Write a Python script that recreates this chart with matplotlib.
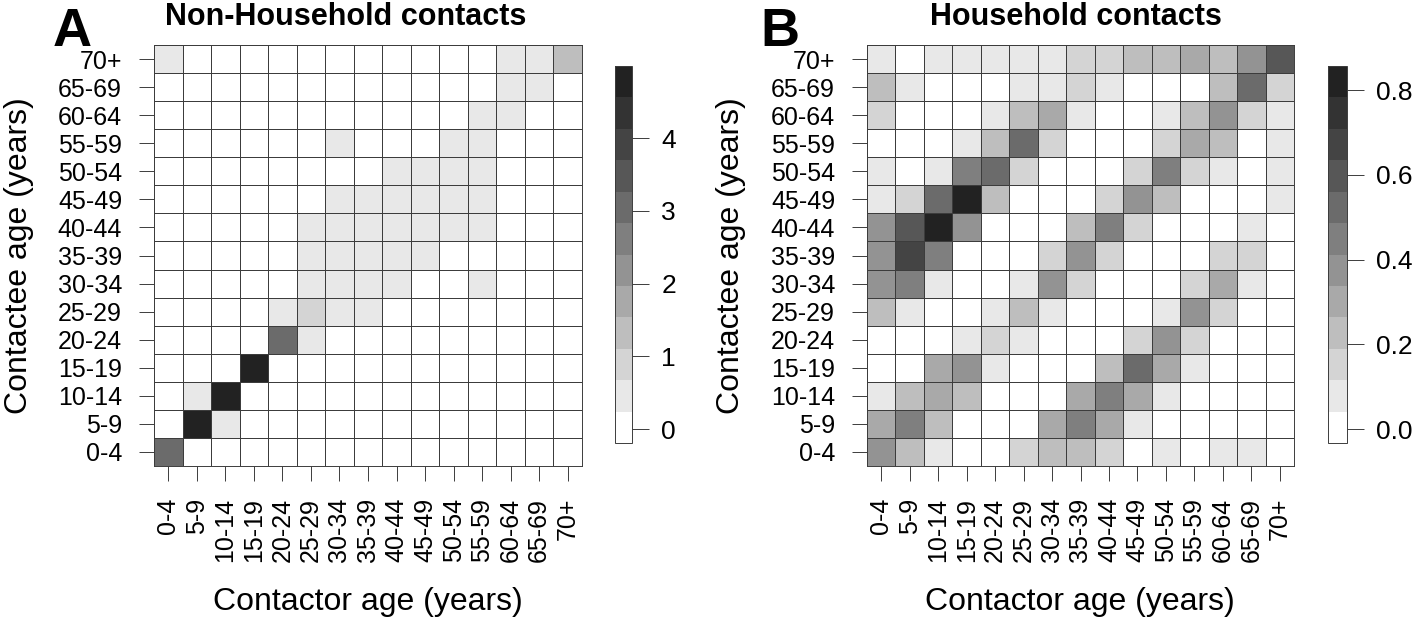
import numpy as np
import matplotlib
matplotlib.use('Agg')
import matplotlib.pyplot as plt
from matplotlib.colors import ListedColormap, BoundaryNorm

plt.rcParams['font.family'] = ['Liberation Sans', 'DejaVu Sans']

age_groups = ['0-4', '5-9', '10-14', '15-19', '20-24', '25-29', '30-34', '35-39',
              '40-44', '45-49', '50-54', '55-59', '60-64', '65-69', '70+']

# rows = contactee age (0-4 first), columns = contactor age
non_household = np.array([
    [3.05, 0, 0, 0, 0, 0, 0, 0, 0, 0, 0, 0, 0, 0, 0],
    [0, 4.8, 0.45, 0, 0, 0, 0, 0, 0, 0, 0, 0, 0, 0, 0],
    [0, 0.45, 4.8, 0, 0, 0, 0, 0, 0, 0, 0, 0, 0, 0, 0],
    [0, 0, 0, 4.8, 0, 0, 0, 0, 0, 0, 0, 0, 0, 0, 0],
    [0, 0, 0, 0, 3.05, 0.45, 0, 0, 0, 0, 0, 0, 0, 0, 0],
    [0, 0, 0, 0, 0.45, 0.9, 0.45, 0.45, 0, 0, 0, 0, 0, 0, 0],
    [0, 0, 0, 0, 0, 0.45, 0.45, 0.45, 0.45, 0, 0, 0.45, 0, 0, 0],
    [0, 0, 0, 0, 0, 0.45, 0.45, 0.45, 0.45, 0.45, 0, 0, 0, 0, 0],
    [0, 0, 0, 0, 0, 0.45, 0.45, 0.45, 0.45, 0.45, 0.45, 0.45, 0, 0, 0],
    [0, 0, 0, 0, 0, 0, 0.45, 0.45, 0.45, 0.45, 0.45, 0.45, 0, 0, 0],
    [0, 0, 0, 0, 0, 0, 0, 0, 0.45, 0.45, 0.45, 0.45, 0, 0, 0],
    [0, 0, 0, 0, 0, 0, 0.45, 0, 0, 0, 0.45, 0.45, 0, 0, 0],
    [0, 0, 0, 0, 0, 0, 0, 0, 0, 0, 0, 0.45, 0.45, 0, 0],
    [0, 0, 0, 0, 0, 0, 0, 0, 0, 0, 0, 0, 0.45, 0.45, 0],
    [0.45, 0, 0, 0, 0, 0, 0, 0, 0, 0, 0, 0, 0.45, 0.45, 1.3],
])

household = np.array([
    [0.38, 0.23, 0.08, 0, 0, 0.15, 0.23, 0.23, 0.15, 0, 0.08, 0, 0.08, 0.08, 0],
    [0.30, 0.45, 0.23, 0, 0, 0, 0.30, 0.45, 0.30, 0.08, 0, 0, 0, 0, 0],
    [0.08, 0.23, 0.30, 0.23, 0, 0, 0, 0.30, 0.45, 0.30, 0.08, 0, 0, 0, 0],
    [0, 0, 0.30, 0.38, 0.08, 0, 0, 0, 0.23, 0.52, 0.30, 0.08, 0, 0, 0],
    [0, 0, 0, 0.08, 0.15, 0.08, 0, 0, 0, 0.15, 0.38, 0.15, 0, 0, 0],
    [0.23, 0.08, 0, 0, 0.08, 0.23, 0.08, 0, 0, 0, 0.08, 0.38, 0.15, 0, 0],
    [0.38, 0.45, 0.08, 0, 0, 0.08, 0.38, 0.15, 0, 0, 0, 0.15, 0.30, 0.08, 0],
    [0.38, 0.67, 0.45, 0, 0, 0, 0.15, 0.38, 0.15, 0, 0, 0, 0.15, 0.15, 0],
    [0.38, 0.60, 0.82, 0.38, 0, 0, 0, 0.23, 0.45, 0.15, 0, 0, 0, 0.08, 0],
    [0.08, 0.15, 0.52, 0.82, 0.23, 0, 0, 0, 0.15, 0.38, 0.23, 0, 0, 0, 0.08],
    [0.08, 0, 0.08, 0.45, 0.52, 0.15, 0, 0, 0, 0.15, 0.45, 0.15, 0.08, 0, 0.08],
    [0, 0, 0, 0.08, 0.23, 0.52, 0.15, 0, 0, 0, 0.15, 0.30, 0.23, 0, 0.08],
    [0.15, 0, 0, 0, 0.08, 0.23, 0.30, 0.08, 0, 0, 0.08, 0.23, 0.38, 0.15, 0.08],
    [0.23, 0.08, 0, 0, 0, 0.08, 0.08, 0.15, 0.08, 0, 0, 0, 0.23, 0.52, 0.15],
    [0.08, 0, 0.08, 0.08, 0.08, 0.08, 0.08, 0.15, 0.15, 0.23, 0.23, 0.30, 0.23, 0.38, 0.60],
])

# colour scale ranges read from the legends (12 grey levels each)
nh_range = (-0.19, 4.99)
hh_range = (-0.033, 0.857)
nh_ticks = [0, 1, 2, 3, 4]
hh_ticks = [0.0, 0.2, 0.4, 0.6, 0.8]

greys = ['#ffffff', '#e8e8e8', '#d4d4d4', '#bebebe', '#a9a9a9', '#939393',
         '#7f7f7f', '#6b6b6b', '#575757', '#444444', '#333333', '#222222']
cmap = ListedColormap(greys)

W, H = 1418, 618
fig = plt.figure(figsize=(W / 100, H / 100), dpi=100)
line_col = '#3c3c3c'


def px(x0, y0, w, h):
    return [x0 / W, 1 - (y0 + h) / H, w / W, h / H]


def panel(ax_box, cax_box, mat, rng, ticks, fmt):
    ax = fig.add_axes(px(*ax_box))
    bounds = np.linspace(rng[0], rng[1], len(greys) + 1)
    norm = BoundaryNorm(bounds, cmap.N)
    mesh = ax.pcolormesh(np.arange(16), np.arange(16), mat, cmap=cmap, norm=norm,
                         edgecolors=line_col, linewidth=0.6)
    ax.set_xlim(0, 15)
    ax.set_ylim(0, 15)
    ax.set_xticks(np.arange(15) + 0.5)
    ax.set_yticks(np.arange(15) + 0.5)
    ax.set_xticklabels(age_groups, rotation=90)
    ax.set_yticklabels(age_groups)
    ax.tick_params(length=11, width=0.7, color=line_col, pad=12, labelsize=18)
    for s in ax.spines.values():
        s.set_color(line_col)
        s.set_linewidth(0.7)

    cax = fig.add_axes(px(*cax_box))
    cb = fig.colorbar(mesh, cax=cax, boundaries=bounds, ticks=ticks)
    cb.minorticks_off()
    cb.ax.set_yticklabels([fmt.format(t) for t in ticks])
    cb.ax.tick_params(length=12, width=0.7, color=line_col, pad=9, labelsize=19)
    cb.outline.set_edgecolor(line_col)
    cb.outline.set_linewidth(0.7)
    return ax


panel((154, 45, 428, 421), (615, 66, 17, 377), non_household, nh_range, nh_ticks, '{:d}')
panel((867, 45, 427, 421), (1328, 66, 19, 377), household, hh_range, hh_ticks, '{:.1f}')

for lx, tx, letter, title, cx in [(53, 165, 'A', 'Non-Household contacts', 368),
                                   (760, 930, 'B', 'Household contacts', 1080)]:
    fig.text(lx / W, 1 - 46 / H, letter, fontsize=39, fontweight='bold', va='baseline')
    fig.text(tx / W, 1 - 25 / H, title, fontsize=22, fontweight='bold', va='baseline')
    fig.text(cx / W, 1 - 610 / H, 'Contactor age (years)', fontsize=23, ha='center', va='baseline')
    fig.text((cx - 214 - 135) / W, 1 - 255.5 / H, 'Contactee age (years)', fontsize=23,
             rotation=90, ha='center', va='center')

fig.savefig('out.png', dpi=100)
